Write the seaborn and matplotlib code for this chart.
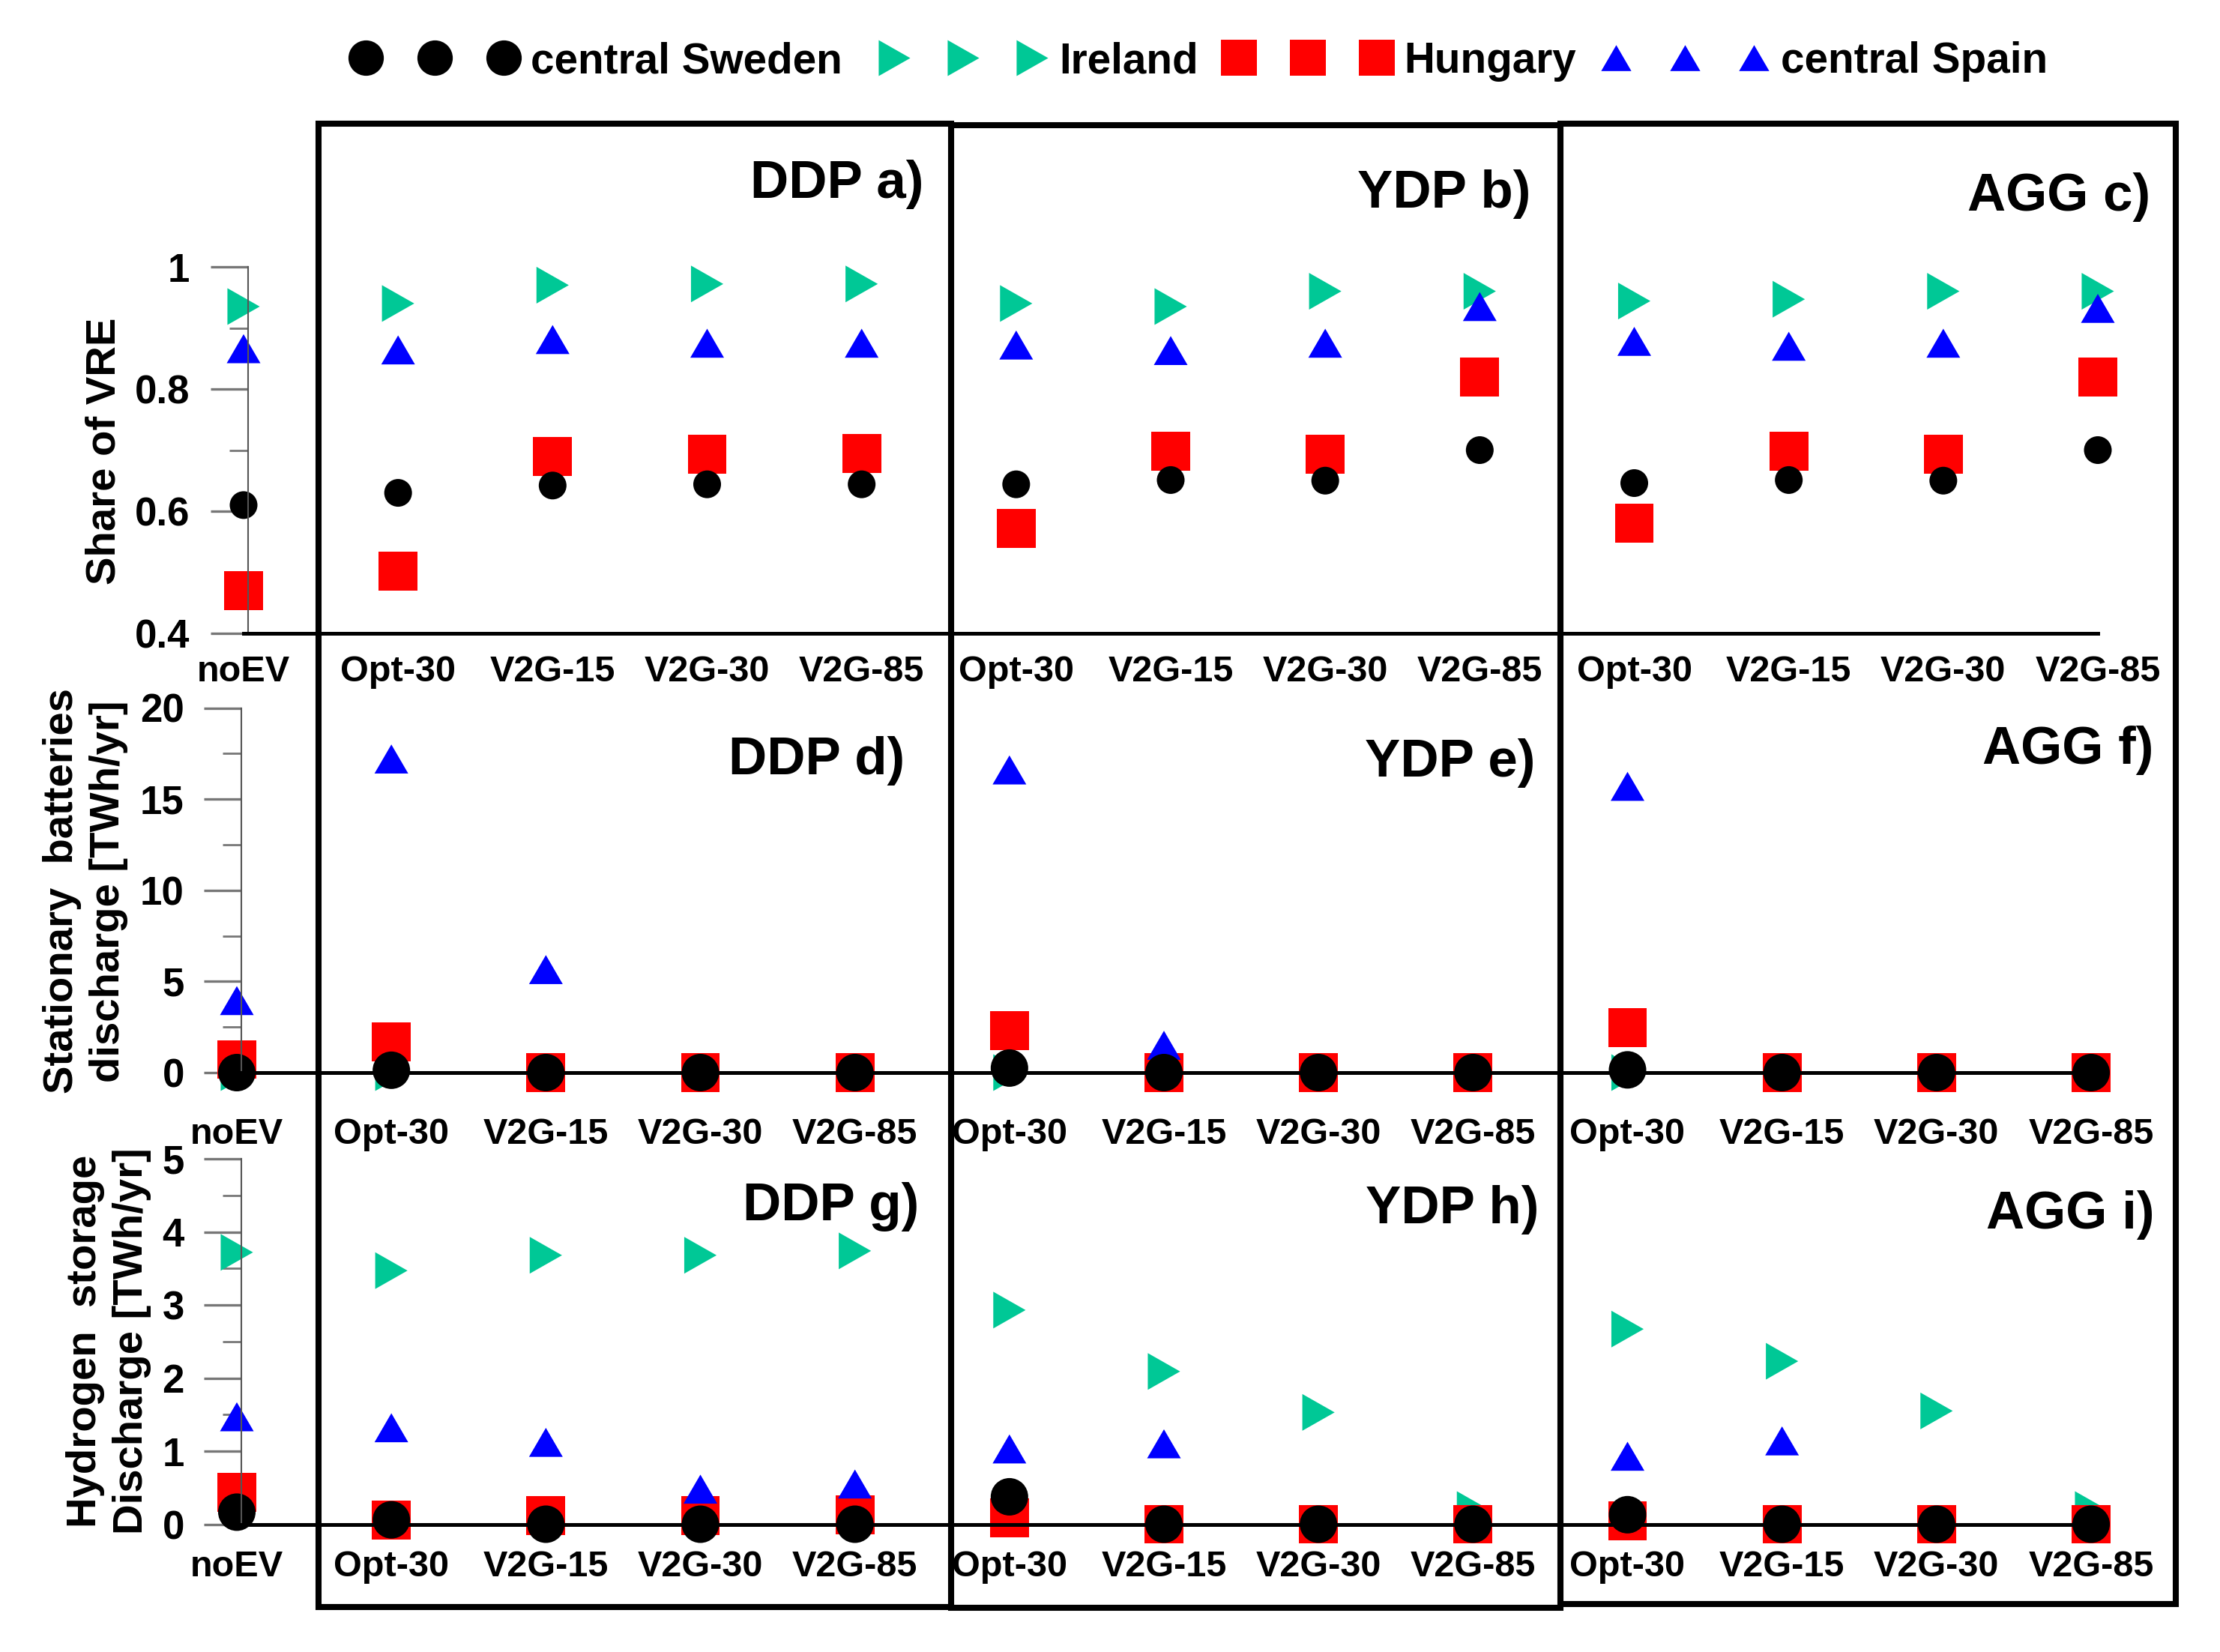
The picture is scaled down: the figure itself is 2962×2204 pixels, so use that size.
import numpy as np
import pandas as pd
import matplotlib.pyplot as plt
import seaborn as sns
from matplotlib.lines import Line2D
from matplotlib.patches import Rectangle
from matplotlib.path import Path

W, H = 2962, 2204

scenarios = ['noEV',
             'Opt-30', 'V2G-15', 'V2G-30', 'V2G-85',
             'Opt-30', 'V2G-15', 'V2G-30', 'V2G-85',
             'Opt-30', 'V2G-15', 'V2G-30', 'V2G-85']
nan = np.nan

# share of VRE
vre_ireland = [0.935, 0.94, 0.97, 0.972, 0.972, 0.94, 0.935, 0.96, 0.96, 0.944, 0.947, 0.96, 0.96]
vre_hungary = [0.47, 0.502, 0.69, 0.693, 0.695, 0.572, 0.698, 0.693, 0.82, 0.58, 0.698, 0.693, 0.82]
vre_spain = [0.866, 0.864, 0.881, 0.875, 0.875, 0.872, 0.863, 0.875, 0.935, 0.878, 0.87, 0.875, 0.932]
vre_sweden = [0.61, 0.63, 0.642, 0.644, 0.644, 0.644, 0.651, 0.65, 0.70, 0.646, 0.651, 0.65, 0.70]

# stationary batteries discharge
bat_ireland = [0, 0, 0, 0, 0, 0, 0, 0, 0, 0, 0, 0, 0]
bat_hungary = [0.72, 1.68, 0, 0, 0, 2.3, 0, 0, 0, 2.45, 0, 0, 0]
bat_spain = [3.95, 17.2, 5.65, nan, nan, 16.6, 1.5, nan, nan, 15.7, nan, nan, nan]
bat_sweden = [0, 0.13, 0, 0, 0, 0.25, 0, 0, 0, 0.15, 0, 0, 0]

# hydrogen storage discharge
h2_ireland = [3.72, 3.47, 3.68, 3.68, 3.74, 2.93, 2.09, 1.53, 0.2, 2.67, 2.23, 1.55, 0.2]
h2_hungary = [0.44, 0.06, 0.12, 0.12, 0.13, 0.09, 0, 0, 0, 0.05, 0, 0, 0]
h2_spain = [1.47, 1.32, 1.12, 0.48, 0.55, 1.03, 1.1, nan, nan, 0.93, 1.14, nan, nan]
h2_sweden = [0.165, 0.06, 0, 0, 0, 0.375, 0, 0, 0, 0.13, 0, 0, 0]

# draw order matters, black dots end up on top
draw_order = ['Ireland', 'Hungary', 'central Spain', 'central Sweden']

# triangles in the figure are not equilateral
tri_right = Path([(-0.88, 1), (-0.88, -1), (0.88, 0), (-0.88, 1)], closed=True)
tri_up = Path([(0, 0.86), (-1, -0.86), (1, -0.86), (0, 0.86)], closed=True)

colors = {'central Sweden': '#000000', 'Ireland': '#00C896',
          'Hungary': '#FF0000', 'central Spain': '#0000FF'}
markers = {'central Sweden': 'o', 'Ireland': tri_right, 'Hungary': 's', 'central Spain': tri_up}
legend_ms = {'central Sweden': 34, 'Ireland': 34.5, 'Hungary': 34.5, 'central Spain': 29}
# first marker of each legend entry, pixels
legend_x = {'central Sweden': 488, 'Ireland': 1193, 'Hungary': 1653, 'central Spain': 2156}

sns.set_theme(style="white")
plt.rcParams['font.family'] = ['Liberation Sans', 'DejaVu Sans']
plt.rcParams['font.weight'] = 'bold'
plt.rcParams['axes.labelweight'] = 'bold'


def make_frame(ireland, hungary, spain, sweden):
    frames = []
    for name, vals in zip(draw_order, [ireland, hungary, spain, sweden]):
        frames.append(pd.DataFrame({'pos': range(len(scenarios)), 'value': vals, 'region': name}))
    return pd.concat(frames, ignore_index=True)


def add_row(fig, df, x0, x1, ytop, ybot, ylim, major, minor, labels, dot_size, xpad, ypad):
    ax = fig.add_axes([x0 / W, 1 - ybot / H, (x1 - x0) / W, (ybot - ytop) / H])
    ax.patch.set_alpha(0)
    sizes = {'central Sweden': dot_size, 'Ireland': 1245, 'Hungary': 1400, 'central Spain': 1050}
    sns.scatterplot(data=df, x='pos', y='value', hue='region', style='region', size='region',
                    palette=colors, markers=markers, sizes=sizes, linewidth=0,
                    clip_on=False, legend=False, ax=ax)
    ax.set_xlim(0, 12)
    ax.set_ylim(*ylim)
    ax.set_xticks(range(len(scenarios)))
    ax.set_xticklabels(scenarios)
    ax.set_yticks(minor, minor=True)
    ax.set_yticks(major)
    ax.set_yticklabels(labels)
    ax.tick_params(axis='x', length=0, pad=xpad, labelsize=35, labelcolor='black')
    ax.tick_params(axis='y', which='major', length=36, width=2.4, color='#777777', pad=ypad,
                   labelsize=38, labelcolor='black', left=True)
    ax.tick_params(axis='y', which='minor', length=18, width=2, color='#777777', left=True)
    ax.set_xlabel('')
    ax.set_ylabel('')
    sns.despine(ax=ax)
    ax.spines['left'].set_position(('data', 0.03))
    ax.spines['left'].set_color('#555555')
    ax.spines['left'].set_linewidth(1.5)
    ax.spines['bottom'].set_color('black')
    ax.spines['bottom'].set_linewidth(3.6)
    return ax


fig = plt.figure(figsize=(W / 100, H / 100), dpi=100, facecolor='white')

ax1 = add_row(fig, make_frame(vre_ireland, vre_hungary, vre_spain, vre_sweden),
              325, 2799, 356, 845, (0.4, 1), [0.4, 0.6, 0.8, 1], [0.5, 0.7, 0.9],
              ['0.4', '0.6', '0.8', '1'], 710, 21, 20)
ax2 = add_row(fig, make_frame(bat_ireland, bat_hungary, bat_spain, bat_sweden),
              316, 2790, 944.5, 1431, (0, 20), [0, 5, 10, 15, 20], [2.5, 7.5, 12.5, 17.5],
              ['0', '5', '10', '15', '20'], 1296, 43, 19)
ax3 = add_row(fig, make_frame(h2_ireland, h2_hungary, h2_spain, h2_sweden),
              316, 2790, 1546, 2033.5, (0, 5), [0, 1, 2, 3, 4, 5], [0.5, 1.5, 2.5, 3.5, 4.5],
              ['0', '1', '2', '3', '4', '5'], 1296, 25, 19)

# y labels
ylabel_spots = [(ax1, 'Share of VRE', 139, 602),
                (ax2, 'Stationary  batteries\ndischarge [TWh/yr]', 114, 1189),
                (ax3, 'Hydrogen  storage\nDischarge [TWh/yr]', 145, 1789)]
for ax, txt, px, py in ylabel_spots:
    ax.set_ylabel(txt, fontsize=40.5, fontweight='bold', color='black', linespacing=1.25)
    ax.yaxis.set_label_coords(px / W, 1 - py / H, transform=fig.transFigure)
    ax.yaxis.label.set_verticalalignment('center')

# panel titles (right edge, centre y)
panel_labels = [('DDP a)', 1232, 246), ('YDP b)', 2042, 259), ('AGG c)', 2869, 263),
                ('DDP d)', 1207, 1015), ('YDP e)', 2048, 1018), ('AGG f)', 2873, 1001),
                ('DDP g)', 1226, 1610), ('YDP h)', 2053, 1614), ('AGG i)', 2875, 1621)]
for txt, px, py in panel_labels:
    fig.text(px / W, 1 - py / H, txt, fontsize=51, fontweight='bold', color='black',
             ha='right', va='center')

# the three frames around the scenario groups
frames = [(425, 165, 1269, 2144), (1269, 167, 2082, 2145), (2082, 165, 2903, 2140)]
for left, top, right, bottom in frames:
    fig.add_artist(Rectangle((left / W, 1 - bottom / H), (right - left) / W, (bottom - top) / H,
                             transform=fig.transFigure, fill=False, edgecolor='black',
                             linewidth=5.8, zorder=5))

# legend, three markers per entry, spaced by hand because the gaps differ
for region, px in legend_x.items():
    handle = Line2D([], [], linestyle='none', marker=markers[region], color=colors[region],
                    markeredgewidth=0, markersize=legend_ms[region], label=region)
    fig.legend(handles=[handle], loc='center left', bbox_to_anchor=((px - 17) / W, 1 - 82 / H),
               numpoints=3, frameon=False, borderpad=0, borderaxespad=0,
               handlelength=3.85, handletextpad=0.33,
               prop={'size': 40.8, 'weight': 'bold'}, labelcolor='black')

fig.savefig('out.png', dpi=100)
